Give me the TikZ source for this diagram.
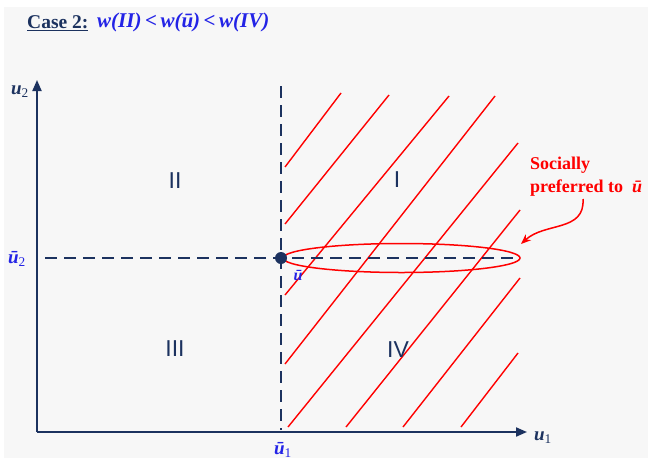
\documentclass[tikz,border=0pt]{standalone}
\usepackage{fontspec}
\setmainfont{Liberation Serif}
\newfontfamily\labfont{Liberation Sans}
\usetikzlibrary{arrows.meta,shapes.geometric}
\definecolor{navy}{RGB}{28,50,95}
\definecolor{ublue}{RGB}{35,35,230}
\definecolor{bg}{RGB}{247,247,247}
\begin{document}
\begin{tikzpicture}[x=1pt,y=-1pt,
 axis/.style={draw=navy,line width=2pt,-{Triangle[length=11pt,width=9pt]}},
 guide/.style={draw=navy,line width=1.8pt,dash pattern=on 12pt off 7pt},
 hatch/.style={draw=red,line width=1.4pt},
 region/.style={font=\labfont\fontsize{23}{25}\selectfont,text=navy},
 axlab/.style={font=\fontsize{19}{21}\selectfont\bfseries\itshape,text=navy,inner sep=0},
 barlab/.style={font=\fontsize{19}{21}\selectfont\bfseries\itshape,text=ublue,inner sep=0}]
\useasboundingbox (0,0) rectangle (652,463);
\fill[white] (0,0) rectangle (652,463);
\fill[bg] (4,7) rectangle (648,458);
% title
\node[anchor=west,inner sep=0,text=navy,font=\fontsize{19.5}{21}\selectfont\bfseries] (case) at (27,23) {\underline{Case 2:}};
\node[anchor=west,inner sep=0,text=ublue,font=\fontsize{21}{23}\selectfont\bfseries\itshape] (cond) at (97,22) {w(II)\,{\upshape<}\,w(ū)\,{\upshape<}\,w(IV)};
% hatch lines
\draw[hatch] (285,167) -- (341,93);
\draw[hatch] (285,224) -- (389,95);
\draw[hatch] (285,295) -- (449,96);
\draw[hatch] (285,364) -- (495,96);
\draw[hatch] (288,427) -- (518,143);
\draw[hatch] (346,427) -- (520,210);
\draw[hatch] (403,427) -- (520,278);
\draw[hatch] (461,427) -- (518,353);
% axes
\coordinate (O) at (37,432);
\coordinate (ytop) at (37,80);
\coordinate (xend) at (527,432);
\draw[axis] (O) -- (ytop);
\draw[axis] (O) -- (xend);
% point and guides
\coordinate (vtop) at (281,86);
\coordinate (vbot) at (281,430);
\coordinate (hleft) at (45,258);
\coordinate (hright) at (516,258);
\draw[guide] (vtop) -- (vbot);
\draw[guide] (hleft) -- (hright);
\node[ellipse,draw=red,line width=1.5pt,minimum width=237pt,minimum height=29pt,inner sep=0] (pref) at (401.5,258) {};
\node[circle,fill=navy,minimum size=12pt,inner sep=0] (ubar) at (281,258) {};
% labels
\node[axlab] (u2) at (20,92) {u\textsubscript{\normalfont 2}};
\node[barlab] (ub2) at (17,259) {ū\textsubscript{\normalfont 2}};
\node[axlab] (u1) at (543,438) {u\textsubscript{\normalfont 1}};
\node[barlab] (ub1) at (283,450) {ū\textsubscript{\normalfont 1}};
\node[barlab,font=\fontsize{16}{18}\selectfont\bfseries\itshape] (ubl) at (298,276) {ū};
\node[region] (rII) at (175,181) {II};
\node[region] (rI) at (397,180) {I};
\node[region] (rIII) at (175,349) {III};
\node[region] (rIV) at (398,350) {IV};
% annotation
\node[anchor=north west,align=left,text=red,inner sep=0,font=\fontsize{18}{23}\selectfont\bfseries] (soc) at (530,157) {Socially\\preferred to\ \ {\itshape ū}};
\coordinate (arrstart) at (583,199);
\coordinate (arrtip) at (521,244);
\draw[red,line width=1.5pt,-{Stealth[length=10pt,width=8pt]}] (arrstart) .. controls (585,232) and (545,222) .. (arrtip);
\end{tikzpicture}
\end{document}
